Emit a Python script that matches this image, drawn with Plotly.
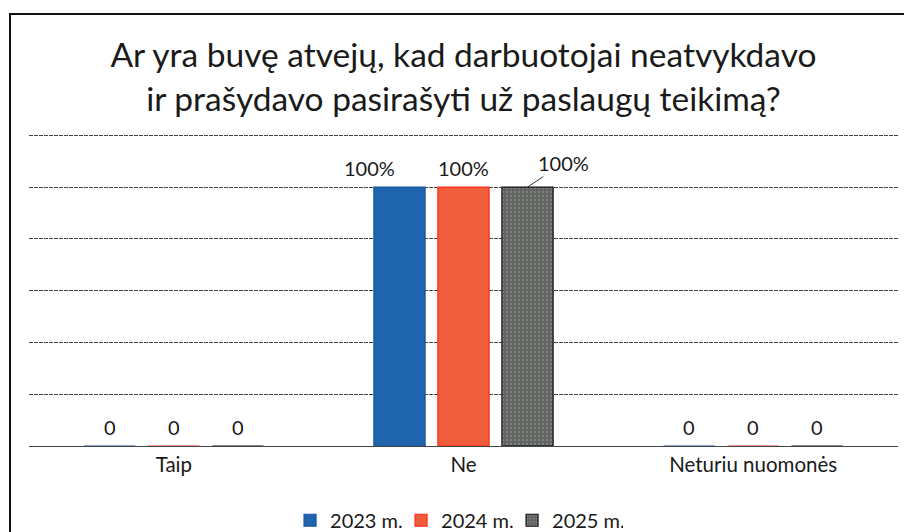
import plotly.graph_objects as go

categories = ["Taip", "Ne", "Neturiu nuomonės"]
series_names = ["2023 m.", "2024 m.", "2025 m."]
values_2023 = [0, 1.0, 0]
values_2024 = [0, 1.0, 0]
values_2025 = [0, 1.0, 0]
labels_2023 = ["0", "100%", "0"]
labels_2024 = ["0", "100%", "0"]
labels_2025 = ["0", "100%", "0"]
title_text = "Ar yra buvę atvejų, kad darbuotojai neatvykdavo<br>ir prašydavo pasirašyti už paslaugų teikimą?"

series_values = [values_2023, values_2024, values_2025]
series_labels = [labels_2023, labels_2024, labels_2025]
fill_colors = ["#1f65ae", "#f05d3b", "#606360"]
line_colors = ["#1a55a0", "#ff2a1a", "#111111"]

FONT = "Lato"
W, H = 904, 532
ML, MR, MT, MB = 29, 6, 134, 86
plot_w = W - ML - MR
plot_h = H - MT - MB
Y_TOP = 1.205

fig = go.Figure()
for i, name in enumerate(series_names):
    marker = dict(color=fill_colors[i], line=dict(color=line_colors[i], width=1.2))
    if i == 2:
        marker["pattern"] = dict(shape=".", fgcolor="#9c9f9c", size=4, solidity=0.3)
    fig.add_trace(go.Bar(
        x=categories, y=series_values[i], name=name, marker=marker,
        hoverinfo="skip",
    ))

# data labels
slot_px = plot_w / 3 * (1 - 0.337) / 3
manual_shift = {(0, 1): -30}
annotations = []
for i in range(3):
    for j, cat in enumerate(categories):
        if (i, j) == (2, 1):
            continue
        annotations.append(dict(
            x=cat, y=series_values[i][j], xref="x", yref="y",
            text=series_labels[i][j], showarrow=False,
            xshift=(i - 1) * slot_px + manual_shift.get((i, j), 0),
            yanchor="bottom", yshift=5,
            font=dict(family=FONT, size=20, color="#1a1a1a"),
        ))
# moved label with leader line for 2025 / Ne
annotations.append(dict(
    x=1 + (slot_px / (plot_w / 3)), y=series_values[2][1], xref="x", yref="y",
    text=series_labels[2][1], showarrow=True, arrowhead=0, arrowwidth=1,
    arrowcolor="#333333", ax=36, ay=-24, standoff=0,
    font=dict(family=FONT, size=20, color="#1a1a1a"),
))

fig.update_layout(
    width=W, height=H,
    margin=dict(l=ML, r=MR, t=MT, b=MB, autoexpand=False),
    paper_bgcolor="white", plot_bgcolor="white",
    title=dict(text=title_text, x=0.5, xref="paper", xanchor="center",
               y=0.874, yref="container", yanchor="middle",
               font=dict(family=FONT, size=33.5, color="#1a1a1a")),
    barmode="group", bargap=0.337, bargroupgap=0.2,
    showlegend=True,
    legend=dict(orientation="h", x=0.492, xanchor="center", y=-0.238, yanchor="middle",
                font=dict(family=FONT, size=20, color="#1a1a1a"),
                itemwidth=30, entrywidth=66, entrywidthmode="pixels",
                traceorder="normal"),
    font=dict(family=FONT, color="#1a1a1a"),
    annotations=annotations,
    shapes=[dict(type="rect", xref="paper", yref="paper",
                 x0=(10 - ML) / plot_w, x1=1.05,
                 y0=-0.35, y1=(plot_h + MT - 14) / plot_h,
                 line=dict(color="#111111", width=2), fillcolor="rgba(0,0,0,0)",
                 layer="below")],
)
fig.update_xaxes(showgrid=False, showline=True, linecolor="#444444", linewidth=1,
                 ticks="", tickfont=dict(family=FONT, size=20.5, color="#1a1a1a"))
fig.update_yaxes(range=[0, Y_TOP], dtick=0.2, showgrid=True, gridcolor="#444444",
                 griddash="4px,1px", gridwidth=1, showticklabels=False,
                 zeroline=False, showline=False)

fig.write_html("out.html", config={"displayModeBar": False},
               post_script="document.body.style.margin='0';")
